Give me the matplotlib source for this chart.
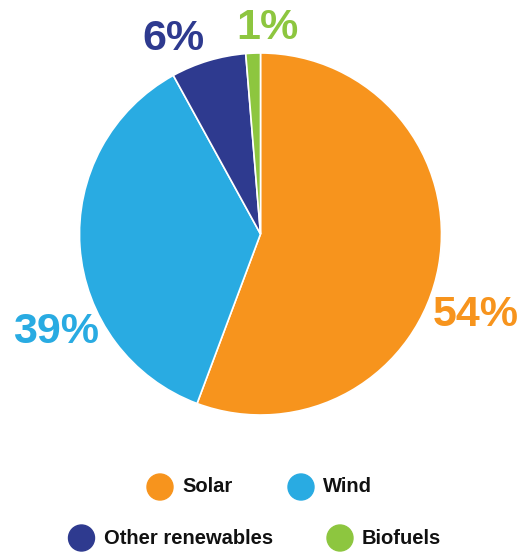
import matplotlib.pyplot as plt
from matplotlib.patches import Circle

# shares as drawn in the picture (labels show rounded figures)
categories = ['Solar', 'Wind', 'Other renewables', 'Biofuels']
shares = [55.7, 36.3, 6.7, 1.3]
pct_labels = ['54%', '39%', '6%', '1%']
colors = ['#F7941D', '#29ABE2', '#2E3A8F', '#8DC63F']

W, H = 526, 552
fig = plt.figure(figsize=(W / 100, H / 100), dpi=100)
ax = fig.add_axes([0, 0, 1, 1])
ax.set_xlim(0, W)
ax.set_ylim(0, H)
ax.axis('off')

# pie, centre given in pixels from top-left
cx, cy, r = 260.5, 234, 181
ax.pie(shares, colors=colors, startangle=90, counterclock=False,
       center=(cx, H - cy), radius=r,
       wedgeprops=dict(edgecolor='white', linewidth=1.2))
ax.set_xlim(0, W)
ax.set_ylim(0, H)
ax.set_aspect('equal')

# percentage labels
label_pos = [(476, 315), (56, 332), (173, 39), (267, 28)]
for txt, (x, y), c in zip(pct_labels, label_pos, colors):
    ax.text(x, H - y, txt, color=c, fontsize=31, fontweight='bold',
            family='Liberation Sans', ha='center', va='center')

# legend
legend_pos = [(160, 487), (301, 487), (81.5, 538), (340, 538)]
for name, (x, y), c in zip(categories, legend_pos, colors):
    ax.add_patch(Circle((x, H - y), 13, color=c))
    ax.text(x + 22, H - y, name, color='#111111', fontsize=14.5,
            fontweight='bold', family='Liberation Sans', ha='left', va='center')

fig.savefig('out.png', dpi=100)
